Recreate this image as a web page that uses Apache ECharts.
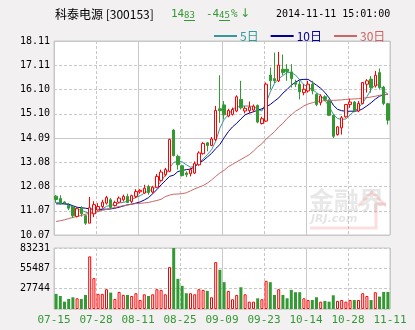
<!DOCTYPE html>
<html>
<head>
<meta charset="utf-8">
<script src="https://cdn.jsdelivr.net/npm/echarts@6/dist/echarts.min.js"></script>
<style>
  html, body { margin: 0; padding: 0; background: #f2f0f1; }
  #chart { width: 415px; height: 330px; }
</style>
</head>
<body>
<div id="chart"></div>
<script>
// Trading days, 2014-07-15 .. 2014-11-11
const dates = [
  '07-15','07-16','07-17','07-18','07-21','07-22','07-23','07-24','07-25','07-28',
  '07-29','07-30','07-31','08-01','08-04','08-05','08-06','08-07','08-08','08-11',
  '08-12','08-13','08-14','08-15','08-18','08-19','08-20','08-21','08-22','08-25',
  '08-26','08-27','08-28','08-29','09-01','09-02','09-03','09-04','09-05','09-09',
  '09-10','09-11','09-12','09-15','09-16','09-17','09-18','09-19','09-22','09-23',
  '09-24','09-25','09-26','09-29','09-30','10-08','10-09','10-10','10-13','10-14',
  '10-15','10-16','10-17','10-20','10-21','10-22','10-23','10-24','10-27','10-28',
  '10-29','10-30','10-31','11-03','11-04','11-05','11-06','11-07','11-10','11-11'
];

const openP = [
  11.68,11.58,11.44,11.29,11.23,10.84,11.18,10.87,10.56,10.95,
  11.11,11.25,11.39,11.53,11.29,11.43,11.53,11.67,11.46,11.67,
  11.86,11.81,12.08,11.85,12.05,12.33,12.57,12.71,14.42,13.33,
  12.94,12.64,12.61,12.64,12.98,13.44,13.89,13.78,14.03,15.30,
  15.46,15.00,15.07,15.21,15.69,15.21,15.23,15.25,15.44,14.69,
  14.79,16.70,16.55,16.46,16.94,16.94,16.83,16.39,16.32,15.97,
  16.04,16.32,15.90,15.55,15.80,15.62,15.03,14.23,14.51,14.97,
  15.48,15.58,15.21,15.52,16.32,16.53,16.25,16.80,16.20,15.51
];
const closeP = [
  11.54,11.37,11.40,11.18,10.87,11.16,10.95,10.56,11.20,11.33,
  11.25,11.43,11.62,11.21,11.42,11.60,11.67,11.42,11.70,11.87,
  11.92,12.01,11.83,12.05,12.50,12.68,12.78,14.03,13.36,12.98,
  12.53,12.57,12.78,13.03,13.47,13.86,13.78,14.05,15.23,15.22,
  15.05,15.23,15.27,15.80,15.34,15.32,15.37,15.41,14.75,14.89,
  16.32,16.46,16.46,17.11,16.80,16.85,16.55,16.32,16.00,16.11,
  16.32,16.04,15.48,15.83,15.69,15.03,14.16,14.55,14.93,15.48,
  15.58,15.21,15.52,16.39,16.46,16.18,16.69,16.18,15.52,14.83
];
const lowP = [
  11.40,11.33,11.33,11.10,10.77,10.80,10.83,10.49,10.56,10.81,
  11.08,11.18,11.33,11.15,11.25,11.39,11.46,11.39,11.39,11.60,
  11.78,11.78,11.74,11.78,12.01,12.29,12.50,12.67,13.33,12.78,
  12.50,12.47,12.50,12.60,12.94,13.40,13.54,13.75,13.96,14.72,
  14.86,14.95,15.02,15.16,15.27,15.11,15.11,15.16,14.70,14.65,
  14.75,16.11,16.36,16.41,16.70,16.46,16.18,16.20,15.69,15.86,
  15.97,15.90,15.41,15.44,15.62,15.00,14.09,14.19,14.23,14.93,
  15.34,15.16,15.16,15.48,15.97,15.97,16.18,16.11,15.45,14.65
];
const highP = [
  11.72,11.72,11.47,11.40,11.26,11.22,11.26,10.91,11.65,11.47,
  11.39,11.53,11.69,11.60,11.49,11.67,11.74,11.78,11.74,11.97,
  11.97,12.15,12.15,12.11,12.60,12.78,12.85,14.06,14.45,13.40,
  12.98,12.71,12.85,13.12,13.54,13.92,13.92,14.13,15.42,16.69,
  15.62,15.30,15.35,15.86,16.46,15.41,15.60,15.48,15.48,14.97,
  16.39,17.01,17.63,17.66,17.55,17.15,17.15,16.50,16.46,16.32,
  16.46,16.46,15.94,15.90,15.86,15.69,15.07,14.58,15.00,15.48,
  15.72,15.62,15.62,16.41,16.53,16.66,16.87,16.97,16.25,15.55
];
const volume = [
  20600,17800,10000,13700,16000,14600,13700,19200,71800,42100,
  20600,20600,27000,22400,13700,23300,19200,19200,17800,21500,
  12300,20100,17800,20100,27000,26100,20100,57200,83231,41200,
  31600,21500,21500,20100,27000,26100,24700,16000,64000,53500,
  36600,24700,13300,19200,29700,20100,10000,10000,14600,13300,
  38400,36600,19200,27000,19200,14600,26100,22900,22900,14600,
  12300,12300,16000,10000,11000,10000,18700,11000,12300,10000,
  12300,12300,12300,21500,17800,12300,22900,16900,23300,23300
];
const ma5 = [
  11.42,11.40,11.37,11.32,11.22,11.13,11.10,11.02,10.97,10.99,
  11.04,11.15,11.26,11.30,11.33,11.40,11.42,11.47,11.55,11.62,
  11.70,11.80,11.90,11.97,12.08,12.30,12.55,12.85,13.08,13.12,
  13.10,12.98,12.88,12.92,13.05,13.22,13.40,13.60,13.95,14.50,
  14.85,15.05,15.28,15.37,15.40,15.42,15.41,15.40,15.28,15.21,
  15.55,16.00,16.35,16.55,16.68,16.80,16.80,16.70,16.50,16.30,
  16.20,16.10,15.97,15.85,15.65,15.40,15.08,14.90,14.86,14.88,
  15.05,15.20,15.34,15.55,15.80,16.10,16.30,16.28,16.05,15.90
];
const ma10 = [
  11.36,11.36,11.36,11.35,11.28,11.22,11.20,11.18,11.15,11.14,
  11.13,11.14,11.14,11.15,11.18,11.22,11.27,11.32,11.35,11.39,
  11.44,11.52,11.62,11.78,11.95,12.15,12.32,12.50,12.55,12.70,
  12.74,12.78,12.80,12.90,13.05,13.15,13.30,13.45,13.65,13.82,
  14.10,14.35,14.55,14.70,14.88,15.05,15.12,15.18,15.24,15.30,
  15.38,15.48,15.62,15.75,15.95,16.10,16.28,16.40,16.50,16.52,
  16.52,16.40,16.28,16.15,15.98,15.75,15.45,15.28,15.22,15.20,
  15.20,15.20,15.22,15.30,15.42,15.55,15.70,15.82,15.88,15.90
];
const ma30 = [
  10.63,10.66,10.70,10.75,10.80,10.84,10.88,10.93,10.97,11.01,
  11.05,11.09,11.13,11.17,11.21,11.25,11.28,11.31,11.35,11.37,
  11.38,11.40,11.42,11.46,11.50,11.55,11.66,11.72,11.76,11.77,
  11.78,11.82,11.90,11.98,12.05,12.12,12.22,12.35,12.50,12.64,
  12.75,12.90,13.00,13.10,13.20,13.30,13.40,13.55,13.72,13.85,
  14.05,14.20,14.35,14.55,14.70,14.90,15.05,15.20,15.30,15.42,
  15.50,15.55,15.60,15.62,15.64,15.65,15.65,15.66,15.67,15.69,
  15.70,15.71,15.72,15.74,15.76,15.79,15.82,15.86,15.88,15.90
];

// Axis tick labels
const priceTicks = ['10.07','11.07','12.08','13.08','14.09','15.10','16.10','17.11','18.11'];
const volumeTicks = ['', '27744', '55487', '83231'];
const dateTicks = ['07-15','07-28','08-11','08-25','09-09','09-23','10-14','10-28','11-11'];
const priceMin = 10.07, priceMax = 18.11, volumeMax = 83231;

const UP = '#ff0000', DOWN = '#339933';
const GRID_LINE = '#c8c8c8';
const MONO = '"DejaVu Sans Mono", monospace';
const CJK = '"Noto Sans CJK SC", sans-serif';

const candles = openP.map((o, i) => [o, closeP[i], lowP[i], highP[i]]);
const volBars = volume.map((v, i) => closeP[i] >= openP[i]
  ? { value: v, itemStyle: { color: '#ffffff', borderColor: UP, borderWidth: 1 } }
  : { value: v, itemStyle: { color: DOWN, borderColor: DOWN, borderWidth: 0 } });

// Helper axes that only carry grid lines / labels on an 8-step scale
function stepAxis(gridIndex, step, dashed, extra) {
  return Object.assign({
    type: 'value', gridIndex, min: 0, max: 8, interval: step,
    axisLine: { show: false }, axisTick: { show: false }, axisLabel: { show: false },
    splitLine: { show: true, lineStyle: { color: GRID_LINE, width: 1, type: dashed ? [3, 2] : 'solid' } }
  }, extra || {});
}

const chart = echarts.init(document.getElementById('chart'), null, { renderer: 'canvas' });

chart.setOption({
  animation: false,
  backgroundColor: '#f2f0f1',
  grid: [
    { left: 54, top: 41, width: 336, height: 194, show: true, backgroundColor: '#ffffff', borderColor: GRID_LINE, borderWidth: 1 },
    { left: 54, top: 248, width: 336, height: 61, show: true, backgroundColor: '#ffffff', borderColor: GRID_LINE, borderWidth: 1 }
  ],
  legend: {
    left: 209, top: 25,
    itemWidth: 23, itemHeight: 2, itemGap: 12, icon: 'rect',
    textStyle: { fontFamily: CJK, fontSize: 12, padding: [0, 0, 0, -2] },
    data: [
      { name: '5日', textStyle: { color: '#339999' } },
      { name: '10日', textStyle: { color: '#000099' } },
      { name: '30日', textStyle: { color: '#cc6666' } }
    ]
  },
  xAxis: [
    { type: 'category', gridIndex: 0, data: dates, boundaryGap: true, show: false },
    stepAxis(0, 1, true),
    stepAxis(0, 2, false),
    { type: 'category', gridIndex: 1, data: dates, boundaryGap: true, show: false },
    stepAxis(1, 1, true, {
      position: 'bottom',
      axisLabel: {
        show: true, margin: 6, color: '#339933', fontFamily: MONO, fontSize: 11,
        formatter: v => dateTicks[Math.round(v)] || ''
      }
    }),
    stepAxis(1, 2, false)
  ],
  yAxis: [
    { type: 'value', gridIndex: 0, min: priceMin, max: priceMax, show: false },
    stepAxis(0, 1, true, {
      position: 'left',
      axisLabel: {
        show: true, margin: 4, color: '#000', fontFamily: MONO, fontSize: 10,
        formatter: v => priceTicks[Math.round(v)] || ''
      }
    }),
    stepAxis(0, 4, false),
    { type: 'value', gridIndex: 1, min: 0, max: volumeMax, show: false },
    {
      type: 'value', gridIndex: 1, min: 0, max: 3, interval: 1, position: 'left',
      axisLine: { show: false }, axisTick: { show: false },
      axisLabel: { show: true, margin: 4, color: '#000', fontFamily: MONO, fontSize: 10,
        formatter: v => volumeTicks[Math.round(v)] || '' },
      splitLine: { show: true, lineStyle: { color: GRID_LINE, width: 1, type: [3, 2] } }
    }
  ],
  graphic: [
    // watermark
    { type: 'text', z: 1, silent: true, left: 309, top: 188,
      style: { text: '金融界', font: 'bold 25px ' + CJK, fill: 'rgba(190,190,190,0.35)' } },
    { type: 'text', z: 1, silent: true, left: 311, top: 214,
      style: { text: 'JRJ.com', font: 'italic bold 11px "DejaVu Sans", sans-serif', fill: 'rgba(190,190,190,0.4)' } },
    { type: 'polyline', z: 1, silent: true,
      shape: { points: [[310, 228], [376, 228], [376, 204], [386, 204]] },
      style: { stroke: 'rgba(240,150,150,0.3)', lineWidth: 3, fill: null } },
    { type: 'polyline', z: 1, silent: true,
      shape: { points: [[358, 206], [372, 192], [386, 206]] },
      style: { stroke: 'rgba(240,150,150,0.3)', lineWidth: 3, fill: null } },

    // header
    { type: 'text', left: 55, top: 8,
      style: { text: '科泰电源 [300153]', font: '12px ' + CJK, fill: '#000' } },
    { type: 'text', left: 171, top: 9,
      style: { text: '14', font: '11px ' + MONO, fill: DOWN } },
    { type: 'text', left: 184, top: 11,
      style: { text: '83', font: '9px ' + MONO, fill: DOWN } },
    { type: 'line', shape: { x1: 184, y1: 20.5, x2: 195, y2: 20.5 }, style: { stroke: DOWN, lineWidth: 1 } },
    { type: 'text', left: 206, top: 9,
      style: { text: '-4', font: '11px ' + MONO, fill: DOWN } },
    { type: 'text', left: 219, top: 11,
      style: { text: '45', font: '9px ' + MONO, fill: DOWN } },
    { type: 'line', shape: { x1: 219, y1: 20.5, x2: 230, y2: 20.5 }, style: { stroke: DOWN, lineWidth: 1 } },
    { type: 'text', left: 231, top: 9,
      style: { text: '%', font: '11px ' + MONO, fill: DOWN } },
    { type: 'text', left: 240, top: 8,
      style: { text: '↓', font: '12px "DejaVu Sans", sans-serif', fill: DOWN } },
    { type: 'text', left: 276, top: 9,
      style: { text: '2014-11-11 15:01:00', font: '10px ' + MONO, fill: '#000' } }
  ],
  series: [
    {
      type: 'candlestick', xAxisIndex: 0, yAxisIndex: 0, barWidth: 3, z: 5,
      data: candles,
      itemStyle: { color: '#ffffff', color0: DOWN, borderColor: UP, borderColor0: DOWN, borderWidth: 1 }
    },
    { name: '5日', type: 'line', xAxisIndex: 0, yAxisIndex: 0, data: ma5, showSymbol: false, z: 4,
      lineStyle: { color: '#339999', width: 1 }, itemStyle: { color: '#339999' } },
    { name: '10日', type: 'line', xAxisIndex: 0, yAxisIndex: 0, data: ma10, showSymbol: false, z: 4,
      lineStyle: { color: '#000099', width: 1 }, itemStyle: { color: '#000099' } },
    { name: '30日', type: 'line', xAxisIndex: 0, yAxisIndex: 0, data: ma30, showSymbol: false, z: 4,
      lineStyle: { color: '#cc6666', width: 1 }, itemStyle: { color: '#cc6666' } },
    { type: 'bar', xAxisIndex: 3, yAxisIndex: 3, barWidth: 3, data: volBars, z: 5 }
  ]
});
</script>
</body>
</html>
